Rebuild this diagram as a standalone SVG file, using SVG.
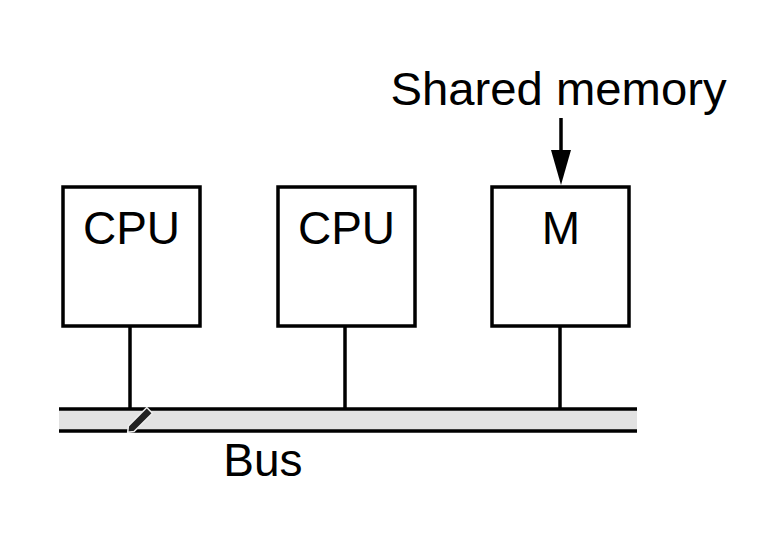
<svg xmlns="http://www.w3.org/2000/svg" width="784" height="548" viewBox="0 0 784 548">
<style>
.box{fill:#fff;stroke:#000;stroke-width:3.5}
.ln{stroke:#000;stroke-width:3.5;fill:none}
.t{font-family:"Liberation Sans",Arial,sans-serif;font-size:46px;fill:#000;text-anchor:middle}
</style>
<rect width="784" height="548" fill="#fff"/>
<g id="bus">
<rect x="59" y="409" width="578" height="22" fill="#e2e2e2"/>
<line class="ln" x1="59" y1="409" x2="637" y2="409" stroke-width="4"/>
<line class="ln" x1="59" y1="431" x2="637" y2="431" stroke-width="4"/>
<g transform="translate(139 421) rotate(-45)">
<path d="M-16,0 L-11,-4 L15,-4 L15,4 L-11,4 Z" fill="#222" stroke="#eee" stroke-width="1.5"/>
</g>
<text class="t" x="263" y="476">Bus</text>
</g>
<g id="connectors">
<line class="ln" x1="130" y1="326" x2="130" y2="409"/>
<line class="ln" x1="345" y1="326" x2="345" y2="409"/>
<line class="ln" x1="560" y1="326" x2="560" y2="409"/>
<line class="ln" x1="561" y1="118" x2="561" y2="155"/>
<polygon points="551,150 571,150 561,185" fill="#000"/>
</g>
<g id="cpu1">
<rect class="box" x="63" y="187" width="137" height="139"/>
<text class="t" x="131.5" y="244">CPU</text>
</g>
<g id="cpu2">
<rect class="box" x="278" y="187" width="137" height="139"/>
<text class="t" x="346.5" y="244">CPU</text>
</g>
<g id="mem">
<rect class="box" x="492" y="187" width="137" height="139"/>
<text class="t" x="561" y="244">M</text>
</g>
<g id="label">
<text class="t" x="558.5" y="105" textLength="336" lengthAdjust="spacingAndGlyphs">Shared memory</text>
</g>
</svg>
